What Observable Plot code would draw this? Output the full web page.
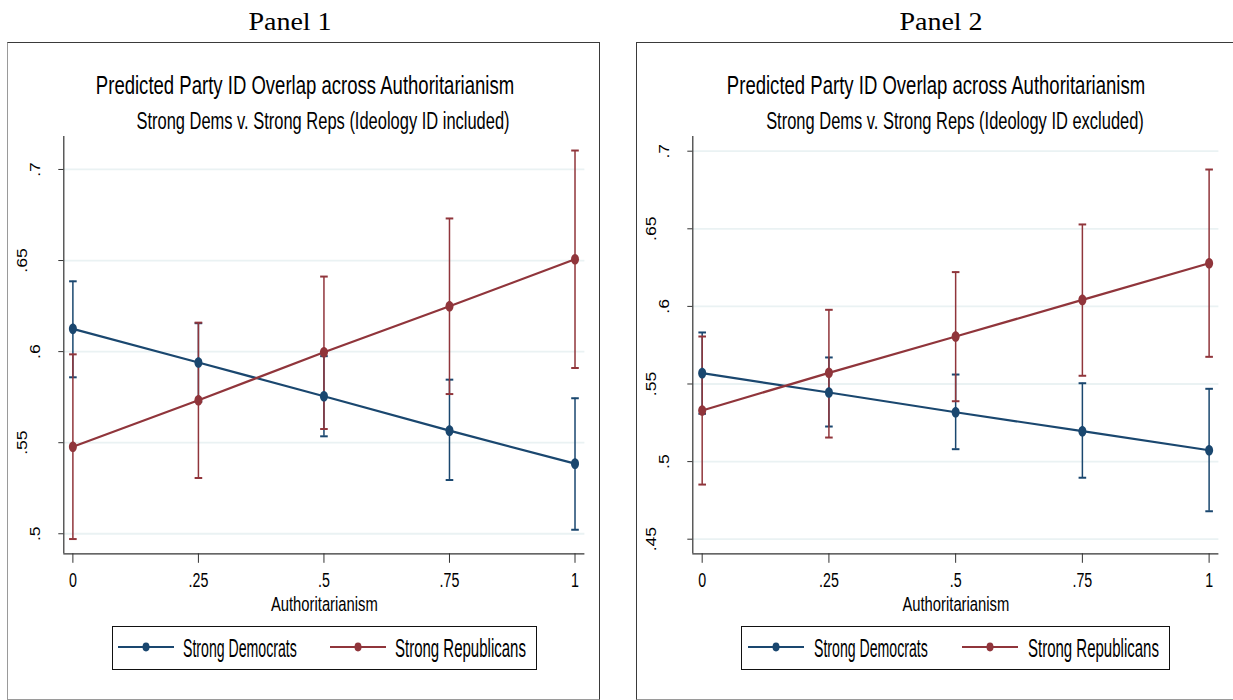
<!DOCTYPE html>
<html>
<head>
<meta charset="utf-8">
<title>Predicted Party ID Overlap across Authoritarianism</title>
<script src="https://cdn.jsdelivr.net/npm/d3@7"></script>
<script src="https://cdn.jsdelivr.net/npm/@observablehq/plot@0.6"></script>
<style>
  html, body { margin: 0; padding: 0; background: #fff; }
  body { position: relative; width: 1233px; height: 700px; overflow: hidden;
         font-family: 'Liberation Sans', Arial, Helvetica, sans-serif; color: #000; }
  .txt { position: absolute; white-space: nowrap; }
  .frame { position: absolute; box-sizing: border-box; border: 1px solid #3a3a3a; }
  .legend { position: absolute; box-sizing: border-box; border: 1.2px solid #111; background: #fff; }
  svg.chart { position: absolute; }
</style>
</head>
<body>
<script>
// ---- data -------------------------------------------------------------
const authLevels = [0, 0.25, 0.5, 0.75, 1];
const xTicks = [0, 0.25, 0.5, 0.75, 1];

// Panel 1: ideology ID included
const p1DemFit = [0.6125, 0.5940, 0.5755, 0.5566, 0.5385];
const p1DemLo  = [0.5859, 0.5724, 0.5535, 0.5295, 0.5022];
const p1DemHi  = [0.6386, 0.6156, 0.5975, 0.5846, 0.5744];
const p1RepFit = [0.5478, 0.5733, 0.5996, 0.6249, 0.6507];
const p1RepLo  = [0.4971, 0.5306, 0.5575, 0.5767, 0.5910];
const p1RepHi  = [0.5985, 0.6159, 0.6412, 0.6731, 0.7104];
const p1YTicks = [0.5, 0.55, 0.6, 0.65, 0.7];

// Panel 2: ideology ID excluded
const p2DemFit = [0.5570, 0.5445, 0.5318, 0.5196, 0.5073];
const p2DemLo  = [0.5308, 0.5226, 0.5080, 0.4896, 0.4680];
const p2DemHi  = [0.5832, 0.5671, 0.5561, 0.5505, 0.5469];
const p2RepFit = [0.5329, 0.5572, 0.5806, 0.6042, 0.6278];
const p2RepLo  = [0.4852, 0.5155, 0.5389, 0.5553, 0.5675];
const p2RepHi  = [0.5806, 0.5978, 0.6221, 0.6528, 0.6882];
const p2YTicks = [0.45, 0.5, 0.55, 0.6, 0.65, 0.7];

const seriesNames = ["Strong Democrats", "Strong Republicans"];
const chartTitle = "Predicted Party ID Overlap across Authoritarianism";
const xTitle = "Authoritarianism";

// ---- styling ----------------------------------------------------------
const BLUE = "#1a476f", RED = "#90353b", GRID = "#eaf2f3", AXIS = "#333";
const SANS = "'Liberation Sans', Arial, Helvetica, sans-serif";

// filled ellipse marker
const ellipse = (rx, ry) => ({
  draw(ctx) {
    const k = 0.5523;
    ctx.moveTo(rx, 0);
    ctx.bezierCurveTo(rx, ry * k, rx * k, ry, 0, ry);
    ctx.bezierCurveTo(-rx * k, ry, -rx, ry * k, -rx, 0);
    ctx.bezierCurveTo(-rx, -ry * k, -rx * k, -ry, 0, -ry);
    ctx.bezierCurveTo(rx * k, -ry, rx, -ry * k, rx, 0);
    ctx.closePath();
  }
});
// horizontal cap for the confidence intervals
const cap = (w) => ({ draw(ctx) { ctx.moveTo(-w, 0); ctx.lineTo(w, 0); } });

const trimZero = d => String(d).replace(/^0\./, ".");

// set the size of text glyphs and scale them around their own anchor
function restyle(root, selector, size, kx, ky = 1) {
  root.querySelectorAll(selector).forEach(t => {
    t.setAttribute("font-size", size);
    t.style.fontSize = size + "px";
    let tr = t.getAttribute("transform") || "";
    const x = t.getAttribute("x");
    if (x !== null) { tr += ` translate(${x},0)`; t.removeAttribute("x"); }
    t.setAttribute("transform", `${tr} scale(${kx},${ky})`);
  });
}

// HTML text helper; baseline-positioned
function addText(str, o) {
  const d = document.createElement("div");
  d.className = "txt";
  d.textContent = str;
  const fs = o.size, asc = o.serif ? 0.8375 : 0.8465;
  d.style.fontSize = fs + "px";
  d.style.lineHeight = fs + "px";
  if (o.serif) d.style.fontFamily = "'Liberation Serif', 'Times New Roman', serif";
  d.style.top = (o.baseline - asc * fs) + "px";
  const k = o.k ?? 1;
  if (o.cx !== undefined) {
    d.style.left = o.cx + "px";
    d.style.transform = `translateX(-50%) scaleX(${k})`;
  } else {
    d.style.left = o.left + "px";
    d.style.transformOrigin = "0 50%";
    d.style.transform = `scaleX(${k})`;
  }
  document.body.appendChild(d);
  return d;
}

function legendKey(color, x1, x2, cy) {
  const s = d3.create("svg")
    .attr("width", x2 - x1 + 2).attr("height", 12)
    .style("position", "absolute").style("left", (x1 - 1) + "px").style("top", (cy - 6) + "px");
  s.append("line").attr("x1", 1).attr("x2", x2 - x1 + 1).attr("y1", 6).attr("y2", 6)
    .attr("stroke", color).attr("stroke-width", 2);
  s.append("ellipse").attr("cx", (x2 - x1) / 2 + 1).attr("cy", 6).attr("rx", 3.5).attr("ry", 4.4)
    .attr("fill", color);
  document.body.appendChild(s.node());
}

function drawPanel(o) {
  // frame around the panel
  const f = document.createElement("div");
  f.className = "frame";
  Object.assign(f.style, { left: o.frame[0] + "px", top: o.frame[1] + "px",
    width: o.frame[2] + "px", height: o.frame[3] + "px",
    borderLeftColor: o.leftBorder, borderBottomColor: "#9a9a9a" });
  document.body.appendChild(f);

  addText(o.panelName, { cx: o.panelCx, baseline: 29.5, size: 25, serif: true, k: 1.12 });
  addText(chartTitle, { cx: o.titleCx, baseline: 94.5, size: 25.5, k: 0.727 });
  addText(o.subtitle, { cx: o.subCx, baseline: 129, size: 23, k: 0.716 });

  const rows = (fit, lo, hi) => authLevels.map((a, i) => ({ a, fit: fit[i], lo: lo[i], hi: hi[i] }));
  const dem = rows(...o.dem), rep = rows(...o.rep);
  const oneDigit = o.yTicks.filter(t => trimZero(t).length === 2);
  const twoDigit = o.yTicks.filter(t => trimZero(t).length === 3);

  const interval = (data, color) => [
    Plot.ruleX(data, { x: "a", y1: "lo", y2: "hi", stroke: color, strokeWidth: 1.5 }),
    Plot.dot(data, { x: "a", y: "hi", symbol: cap(3.8), stroke: color, strokeWidth: 2, fill: "none" }),
    Plot.dot(data, { x: "a", y: "lo", symbol: cap(3.8), stroke: color, strokeWidth: 2, fill: "none" })
  ];
  const connected = (data, color) => [
    Plot.line(data, { x: "a", y: "fit", stroke: color, strokeWidth: 2.2 }),
    Plot.dot(data, { x: "a", y: "fit", symbol: ellipse(4, 5.3), fill: color, stroke: "none" })
  ];

  const svg = Plot.plot({
    width: o.svgW, height: 500,
    marginLeft: 55.3, marginRight: 14.6, marginTop: 10, marginBottom: 72.7,
    x: { domain: o.xDomain, label: null },
    y: { domain: o.yDomain, label: null },
    style: { fontFamily: SANS, fontSize: "20px", color: "#000", background: "transparent", overflow: "visible" },
    marks: [
      Plot.gridY(o.yTicks, { stroke: GRID, strokeOpacity: 1, strokeWidth: 1.8 }),
      Plot.ruleX([o.xDomain[0]], { stroke: AXIS, strokeWidth: 1.2 }),
      Plot.ruleY([o.yDomain[0]], { stroke: AXIS, strokeWidth: 1.2 }),
      Plot.axisY(oneDigit, { tickSize: 5, tickPadding: 19.3, tickRotate: -90, tickFormat: trimZero,
        stroke: AXIS, label: null }),
      Plot.axisY(twoDigit, { tickSize: 5, tickPadding: 32.3, tickRotate: -90, tickFormat: trimZero,
        stroke: AXIS, label: null }),
      Plot.axisX(xTicks, { tickSize: 9.5, tickPadding: 9, tickFormat: trimZero, stroke: AXIS, label: null }),
      Plot.text([xTitle], { frameAnchor: "bottom", dy: 51, lineAnchor: "middle" }),
      ...interval(dem, BLUE),
      ...interval(rep, RED),
      ...connected(dem, BLUE),
      ...connected(rep, RED)
    ]
  });
  svg.classList.add("chart");
  svg.style.left = o.svgLeft + "px";
  svg.style.top = "126px";
  restyle(svg, 'g[aria-label="x-axis tick label"] text', 20.5, 0.695);
  restyle(svg, 'g[aria-label="y-axis tick label"] text', 17.5, 1, 0.82);
  restyle(svg, 'g[aria-label="text"] text', 19.5, 0.76);
  document.body.appendChild(svg);

  // legend
  const lg = document.createElement("div");
  lg.className = "legend";
  Object.assign(lg.style, { left: o.legend[0] + "px", top: "626px", width: o.legend[1] + "px", height: "43.5px" });
  document.body.appendChild(lg);
  const L = o.legendX;
  legendKey(BLUE, L[0], L[0] + 56, 647);
  addText(seriesNames[0], { left: L[1], baseline: 657.5, size: 26.5, k: 0.533 });
  legendKey(RED, L[2], L[2] + 56, 647);
  addText(seriesNames[1], { left: L[3], baseline: 657.5, size: 26.5, k: 0.566 });
}

drawPanel({
  panelName: "Panel 1", panelCx: 290,
  titleCx: 304.5, subCx: 323,
  subtitle: "Strong Dems v. Strong Reps (Ideology ID included)",
  frame: [7, 42, 593, 658], leftBorder: "#9a9a9a",
  svgLeft: 8, svgW: 591,
  xDomain: [-0.0181, 1.0197], yDomain: [0.4890, 0.7181],
  yTicks: p1YTicks,
  dem: [p1DemFit, p1DemLo, p1DemHi], rep: [p1RepFit, p1RepLo, p1RepHi],
  legend: [112, 424.5], legendX: [118, 183, 330, 395]
});

drawPanel({
  panelName: "Panel 2", panelCx: 940.6,
  titleCx: 936, subCx: 954.6,
  subtitle: "Strong Dems v. Strong Reps (Ideology ID excluded)",
  frame: [636, 42, 604, 658], leftBorder: "#3a3a3a",
  svgLeft: 637, svgW: 596,
  xDomain: [-0.0185, 1.0193], yDomain: [0.44059, 0.70947],
  yTicks: p2YTicks,
  dem: [p2DemFit, p2DemLo, p2DemHi], rep: [p2RepFit, p2RepLo, p2RepHi],
  legend: [741, 428.5], legendX: [748, 813.6, 962, 1028]
});
</script>
</body>
</html>
